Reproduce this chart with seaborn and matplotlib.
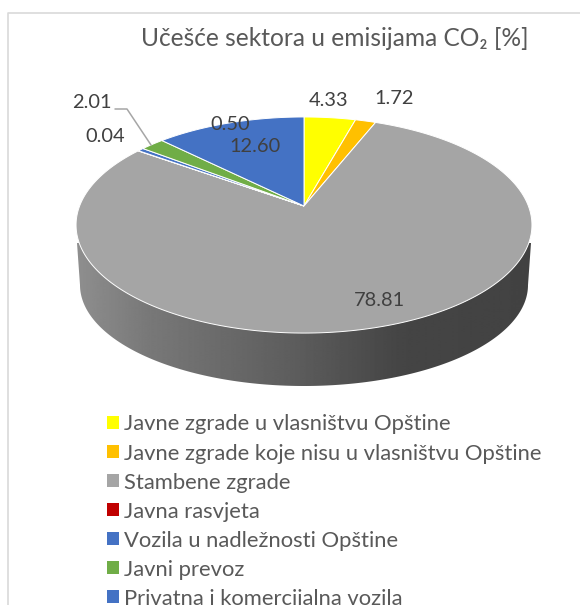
import numpy as np
import seaborn as sns
import matplotlib
matplotlib.use("Agg")
import matplotlib.pyplot as plt
from matplotlib.patches import Patch

# --------------------------------------------------
# Data
# --------------------------------------------------
title = "Učešće sektora u emisijama CO₂ [%]"
sectors = [
    "Javne zgrade u vlasništvu Opštine",
    "Javne zgrade koje nisu u vlasništvu Opštine",
    "Stambene zgrade",
    "Javna rasvjeta",
    "Vozila u nadležnosti Opštine",
    "Javni prevoz",
    "Privatna i komercijalna vozila",
]
shares = [4.33, 1.72, 78.81, 0.04, 0.50, 2.01, 12.60]
share_labels = ["4.33", "1.72", "78.81", "0.04", "0.50", "2.01", "12.60"]
sector_colors = ["#FFFF00", "#FFC000", "#A5A5A5", "#C00000", "#4472C4", "#70AD47", "#4472C4"]

# --------------------------------------------------
# Layout, in pixels of the 580x605 picture
# --------------------------------------------------
APEX_X, APEX_Y = 304, 206
K = 0.176          # perspective of the tilted disc
A, B = 104.7, 224.4
TEXT = "#595959"
LABEL = "#404040"
label_pos = [(329, 100), (394, 98), (379, 300), (105, 137), (230, 125), (92, 103), (255, 146)]


def project(theta):
    # theta measured clockwise from 12 o'clock on the flat disc
    x, y = np.sin(theta), np.cos(theta)
    den = 1 + K * y
    return APEX_X + B * x / den, APEX_Y - A * y / den


sns.set_theme(style="white")
plt.rcParams["font.family"] = ["Lato", "DejaVu Sans"]

fig = plt.figure(figsize=(5.8, 6.05), dpi=100)
ax = fig.add_axes([0, 0, 1, 1])
ax.set_xlim(0, 580)
ax.set_ylim(605, 0)
ax.axis("off")

# chart frame, only left and top are inside the crop
ax.plot([8, 8, 580], [605, 13, 13], color="#D9D9D9", lw=1.2, solid_capstyle="butt")

# --------------------------------------------------
# Side of the disc
# --------------------------------------------------
t = np.linspace(-np.pi / 2, np.pi / 2, 200)
side_x = np.r_[77, 304 + 224 * np.sin(t), 531]
side_y = np.r_[243, 285 + 101 * np.cos(t), 243]
side = ax.fill(side_x, side_y, color="none", zorder=1)[0]

grad_pos = np.array([76, 150, 300, 400, 533])
grad_val = np.array([0.56, 0.47, 0.36, 0.27, 0.26])
grad = np.interp(np.arange(76, 534), grad_pos, grad_val).reshape(1, -1)
im = ax.imshow(grad, extent=(76, 533, 390, 220), cmap="gray", vmin=0, vmax=1,
               aspect="auto", zorder=1)
im.set_clip_path(side)
ax.set_xlim(0, 580)
ax.set_ylim(605, 0)

# --------------------------------------------------
# Top surface slices
# --------------------------------------------------
edges = np.r_[0, np.cumsum(shares)] / np.sum(shares) * 2 * np.pi
for start, end, color in zip(edges[:-1], edges[1:], sector_colors):
    arc = np.linspace(start, end, max(int((end - start) * 80), 2))
    px, py = project(arc)
    ax.fill(np.r_[APEX_X, px], np.r_[APEX_Y, py], facecolor=color,
            edgecolor="white", lw=0.7, zorder=2)

# --------------------------------------------------
# Value labels and leader line
# --------------------------------------------------
for txt, (lx, ly) in zip(share_labels, label_pos):
    ax.text(lx, ly, txt, ha="center", va="center", fontsize=14.4, color=LABEL, zorder=4)
ax.plot([115, 127, 151], [109, 109, 145], color="#A6A6A6", lw=1.1, zorder=3)

ax.text(335, 38.5, title, ha="center", va="center", fontsize=17.65, color=TEXT)

# --------------------------------------------------
# Legend
# --------------------------------------------------
handles = [Patch(facecolor=c, edgecolor="none") for c in sector_colors]
ax.legend(handles, sectors, loc="upper left", bbox_to_anchor=(107 / 580, 1 - 414.5 / 605),
          frameon=False, fontsize=15.85, labelcolor=TEXT, handlelength=0.55,
          handleheight=0.55, handletextpad=0.22, labelspacing=0.41,
          borderpad=0, borderaxespad=0)

plt.savefig("out.png", dpi=100)
plt.close()
